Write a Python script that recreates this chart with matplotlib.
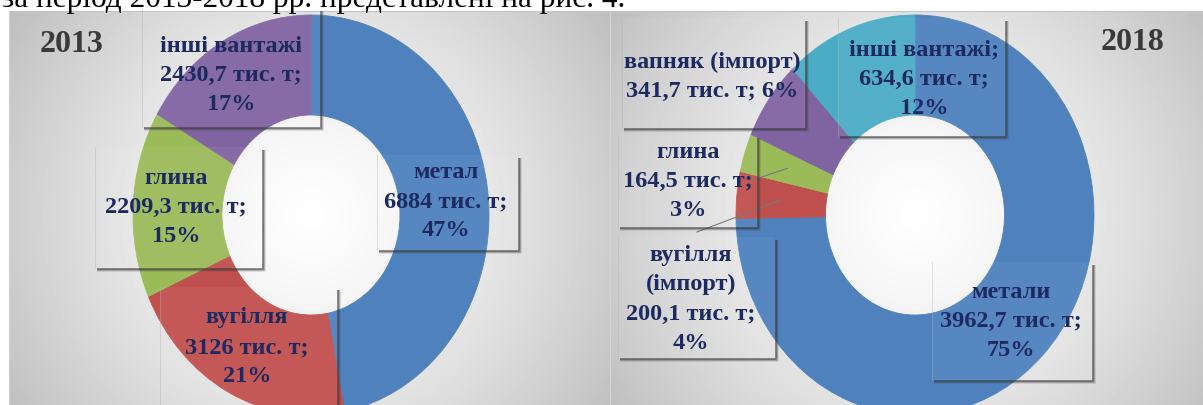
import numpy as np
import matplotlib
matplotlib.use("Agg")
import matplotlib.pyplot as plt
from matplotlib.patches import Rectangle

W, H = 1203, 405

# data (thousand tonnes)
names_2013 = ["метал", "вугілля", "глина", "інші вантажі"]
values_2013 = [6884, 3126, 2209.3, 2430.7]
templates_2013 = ["{n}\n{v} тис. т;\n{p}%"] * 4
colors_2013 = ["#4F81BD", "#C0504D", "#9BBB59", "#8064A2"]

names_2018 = ["метали", "вугілля\n(імпорт)", "глина", "вапняк (імпорт)", "інші вантажі;"]
values_2018 = [3962.7, 200.1, 164.5, 341.7, 634.6]
templates_2018 = ["{n}\n{v} тис. т;\n{p}%"] * 3 + ["{n}\n{v} тис. т; {p}%", "{n}\n{v} тис. т;\n{p}%"]
colors_2018 = ["#4F81BD", "#C0504D", "#9BBB59", "#8064A2", "#4BACC6"]

caption = "за період 2013-2018 рр. представлені на рис. 4."

# layout in pixels: label centre x, first line y, box (x0, y0, x1, y1)
layout_2013 = [
    (446, 172, (377, 155, 518, 250)),
    (247, 318, (160, 287, 337, 420)),
    (176, 178, (95, 147, 262, 268)),
    (231, 46, (142, 8, 320, 127)),
]
layout_2018 = [
    (1011, 292, (932, 262, 1092, 380)),
    (691, 255, (618, 237, 775, 358)),
    (688, 152, (618, 135, 757, 227)),
    (712, 62, (622, 18, 805, 128)),
    (924, 50, (838, 18, 1005, 136)),
]
leader_ends_2018 = {1: (697, 232), 2: (753, 180)}

LABEL_COLOR = "#1D2A62"
SERIF = "Liberation Serif"
PITCH = 29.5


def fmt(v):
    return f"{v:g}".replace(".", ",")


def make_labels(names, values, templates):
    total = sum(values)
    return [t.format(n=n, v=fmt(v), p=round(100 * v / total))
            for n, v, t in zip(names, values, templates)]


def panel(ax, x0, x1, y0, y1, cx, cy, scale=300):
    xs = np.arange(x0, x1) + 0.5
    ys = np.arange(y0, y1) + 0.5
    X, Y = np.meshgrid(xs, ys)
    d = np.hypot((X - cx) / scale, (Y - cy) / scale)
    v = 0.995 - 0.19 * np.clip(d, 0, 1.4) ** 1.4
    ax.imshow(v, cmap="gray", vmin=0, vmax=1, extent=(x0, x1, y1, y0),
              interpolation="bilinear", aspect="auto")


def label_box(ax, x0, y0, x1, y1):
    ax.add_patch(Rectangle((x0, y0), x1 - x0, y1 - y0, facecolor="white",
                           alpha=0.05, edgecolor="none"))
    ax.plot([x0, x0], [y0, y1], color="#b0b0b0", lw=0.6, alpha=0.45)
    for off, a in [(0.8, 0.6), (2.0, 0.32), (3.2, 0.14)]:
        ax.plot([x1 + off, x1 + off, x0 + 2], [y0 + 3, y1 + off, y1 + off],
                color="#3a3a3a", lw=1.3, alpha=a, solid_capstyle="butt")


def draw_label(ax, text, cx, y, box):
    label_box(ax, *box)
    for i, line in enumerate(text.split("\n")):
        ax.text(cx, y + i * PITCH, line, ha="center", va="center",
                fontsize=17.5, fontweight="bold", family=SERIF, color=LABEL_COLOR)


def donut(fig, cx, cy, rx, ry, values, colors):
    ax = fig.add_axes([(cx - rx) / W, (H - (cy + ry)) / H, 2 * rx / W, 2 * ry / H],
                      zorder=1)
    wedges, _ = ax.pie(values, colors=colors, startangle=90, counterclock=False,
                       wedgeprops=dict(width=0.5, linewidth=0.6))
    for w in wedges:
        w.set_edgecolor(w.get_facecolor())
    ax.set_aspect("auto")
    ax.set_xlim(-1, 1)
    ax.set_ylim(-1, 1)
    ax.patch.set_alpha(0)
    return ax, wedges


fig = plt.figure(figsize=(W / 100, H / 100), dpi=100)

bg = fig.add_axes([0, 0, 1, 1], zorder=0)
panel(bg, 9, 610, 11, H, 311, 215)
panel(bg, 610, W, 11, H, 915, 215)
bg.plot([9, W], [11, 11], color="#c4c4c4", lw=0.8)
bg.plot([9, 9], [11, H], color="#d0d0d0", lw=0.8)
bg.plot([610, 610], [11, H], color="#d4d4d4", lw=0.8)
bg.set_xlim(0, W)
bg.set_ylim(H, 0)
bg.axis("off")

ax13, w13 = donut(fig, 311, 215, 178, 200, values_2013, colors_2013)
ax18, w18 = donut(fig, 915, 215, 179, 200, values_2018, colors_2018)

ov = fig.add_axes([0, 0, 1, 1], zorder=2)
ov.set_xlim(0, W)
ov.set_ylim(H, 0)
ov.axis("off")
ov.patch.set_alpha(0)

# leader lines for the thin 2018 slices
to_px = ov.transData.inverted()
for idx, end in leader_ends_2018.items():
    w = w18[idx]
    mid = np.deg2rad((w.theta1 + w.theta2) / 2)
    sx, sy = to_px.transform(ax18.transData.transform((0.75 * np.cos(mid), 0.75 * np.sin(mid))))
    ov.plot([sx, end[0]], [sy, end[1]], color="#7a7a7a", lw=0.8)

for text, (cx, y, box) in zip(make_labels(names_2013, values_2013, templates_2013), layout_2013):
    draw_label(ov, text, cx, y, box)
for text, (cx, y, box) in zip(make_labels(names_2018, values_2018, templates_2018), layout_2018):
    draw_label(ov, text, cx, y, box)

ov.text(72, 45, "2013", ha="center", va="center", fontsize=23, fontweight="bold",
        family=SERIF, color="#3a3a3a")
ov.text(1133, 42, "2018", ha="center", va="center", fontsize=23, fontweight="bold",
        family=SERIF, color="#3a3a3a")

# partly visible line of document text above the figure (cut off as in the source)
top = fig.text(2 / W, 1 - 7 / H, caption, ha="left", va="baseline",
               fontsize=20, family=SERIF, color="black")
r = fig.canvas.get_renderer()
width = top.get_window_extent(r).width
top.set_fontsize(20 * 623 / width)

fig.savefig("out.png", dpi=100)
